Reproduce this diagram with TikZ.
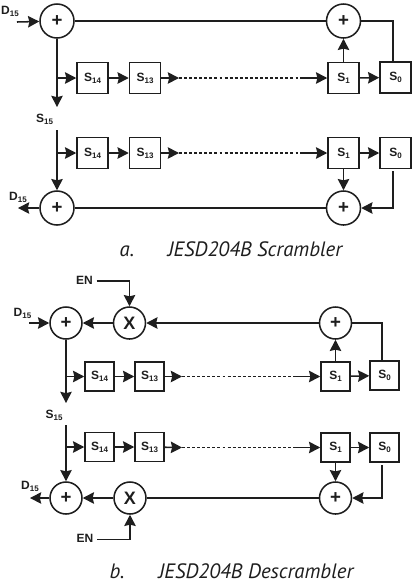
\documentclass[tikz,border=0pt]{standalone}
\usepackage{fontspec}
\setmainfont{Liberation Sans}
\newfontfamily\capfont{PT Sans}
\usetikzlibrary{arrows.meta}
\definecolor{cink}{HTML}{1E1E1E}
\newcommand{\sname}[2]{{\fontsize{9}{9}\bfseries #1\raisebox{-1.6pt}{\fontsize{6}{6}\selectfont #2}}}
\tikzset{
  every picture/.style={line width=1.15pt, draw=cink, text=cink},
  regbox/.style={draw, fill=white, minimum size=#1, inner sep=0pt},
  regbox/.default=23.25pt,
  adder/.style={draw, circle, fill=white, minimum size=#1, inner sep=0pt, font=\fontsize{14}{14}\bfseries},
  adder/.default=25.5pt,
  mixer/.style={draw, circle, fill=white, minimum size=24pt, inner sep=0pt, font=\fontsize{13.5}{13.5}\bfseries},
  arrow/.style={-{Stealth[length=8.4pt, width=8.6pt, inset=1pt]}},
  sigtext/.style={inner sep=2.2pt},
  caption/.style={font=\capfont\itshape\fontsize{15.6}{15.6}\selectfont, inner sep=0pt, anchor=base},
}
\begin{document}
\begin{tikzpicture}[x=0.75pt, y=-0.75pt]
  \useasboundingbox (0,0) rectangle (416,583);
  % a. scrambler, upper row
  \node[adder] (xorla) at (57,21) {+};
  \node[adder] (xorra) at (343.5,21) {+};
  \node[regbox] (sfa) at (92.5,78) {\sname{S}{14}};
  \node[regbox] (sea) at (145,78) {\sname{S}{13}};
  \node[regbox] (soa) at (343.5,78) {\sname{S}{1}};
  \node[regbox] (sza) at (395.5,77.5) {\sname{S}{0}};
  \node[sigtext] (dina) at (10,11) {\sname{D}{15}};
  \coordinate (dinaend) at (17,22);
  \coordinate (downa) at (57,107);
  \coordinate (dota) at (179,78);
  \coordinate (dotb) at (300,78);
  \draw[arrow] (dinaend) -- (xorla);
  \draw (xorla) -- (xorra);
  \draw[arrow] (xorla) -- (downa);
  \draw[arrow] (sfa -| xorla) -- (sfa);
  \draw[arrow] (sfa) -- (sea);
  \draw[arrow] (sea) -- (dota);
  \draw[dashed, dash pattern=on 2.2pt off 1.6pt] (dota) -- (dotb);
  \draw[arrow] (dotb) -- (soa);
  \draw[arrow] (soa) -- (sza);
  \draw[arrow] (soa) -- (xorra);
  \draw ([xshift=-1.8pt]sza.north) |- (xorra);
  % a. scrambler, lower row
  \node[sigtext] (ssa) at (44.5,119) {\sname{S}{15}};
  \node[adder] (xorlb) at (57,208) {+};
  \node[adder] (xorrb) at (343.5,208) {+};
  \node[regbox] (sfb) at (92.5,153) {\sname{S}{14}};
  \node[regbox] (seb) at (145,153) {\sname{S}{13}};
  \node[regbox] (sob) at (343.5,153) {\sname{S}{1}};
  \node[regbox] (szb) at (395.5,153) {\sname{S}{0}};
  \node[sigtext] (douta) at (18,197) {\sname{D}{15}};
  \coordinate (ssaend) at (57,130);
  \coordinate (doutaend) at (18,208);
  \coordinate (dotc) at (179,153);
  \coordinate (dotd) at (300,153);
  \coordinate (szbend) at (393,171);
  \draw[arrow] (ssaend) -- (xorlb);
  \draw[arrow] (sfb -| xorlb) -- (sfb);
  \draw[arrow] (sfb) -- (seb);
  \draw[arrow] (seb) -- (dotc);
  \draw[dashed, dash pattern=on 2.2pt off 1.6pt] (dotc) -- (dotd);
  \draw[arrow] (dotd) -- (sob);
  \draw[arrow] (sob) -- (szb);
  \draw[arrow] (sob) -- (xorrb);
  \draw[arrow] (szbend) |- (xorrb);
  \draw (xorrb) -- (xorlb);
  \draw[arrow] (xorlb) -- (doutaend);
  \node[caption] (capa) at (127,256.5) {a.};
  \node[caption] (capatext) at (255,256.5) {JESD204B Scrambler};
  % b. descrambler, upper row
  \node[adder=24pt] (xorlc) at (66,323) {+};
  \node[mixer] (mixc) at (129.5,323) {X};
  \node[adder=24pt] (xorrc) at (335.5,323) {+};
  \node[regbox=21.75pt] (sfc) at (99.5,376.5) {\sname{S}{14}};
  \node[regbox=21.75pt] (sec) at (149.5,376.5) {\sname{S}{13}};
  \node[regbox=21.75pt] (soc) at (335.5,376.5) {\sname{S}{1}};
  \node[regbox=21.75pt] (szc) at (384.5,375.5) {\sname{S}{0}};
  \node[sigtext] (dinb) at (22.5,313) {\sname{D}{15}};
  \node[sigtext] (enc) at (84.5,281) {\sname{EN}{}};
  \coordinate (dinbend) at (29,323);
  \coordinate (downc) at (66,403);
  \coordinate (dote) at (182,376.5);
  \coordinate (dotf) at (295,376.5);
  \draw[arrow] (dinbend) -- (xorlc);
  \draw[arrow] (enc) -| (mixc);
  \draw[arrow] (mixc) -- (xorlc);
  \draw[arrow] (xorrc) -- (mixc);
  \draw[arrow] (xorlc) -- (downc);
  \draw[arrow] (sfc -| xorlc) -- (sfc);
  \draw[arrow] (sfc) -- (sec);
  \draw[arrow] (sec) -- (dote);
  \draw[dashed, dash pattern=on 2.2pt off 1.6pt] (dote) -- (dotf);
  \draw[arrow] (dotf) -- (soc);
  \draw[arrow] (soc) -- (szc);
  \draw[arrow] (soc) -- (xorrc);
  \draw ([xshift=-1.8pt]szc.north) |- (xorrc);
  % b. descrambler, lower row
  \node[sigtext] (ssb) at (54,415) {\sname{S}{15}};
  \node[adder=24pt] (xorld) at (66,498) {+};
  \node[mixer] (mixd) at (130,498) {X};
  \node[adder=24pt] (xorrd) at (335.5,498) {+};
  \node[regbox=21.75pt] (sfd) at (99.5,447) {\sname{S}{14}};
  \node[regbox=21.75pt] (sed) at (149.5,447) {\sname{S}{13}};
  \node[regbox=21.75pt] (sod) at (335.5,447.5) {\sname{S}{1}};
  \node[regbox=21.75pt] (szd) at (384.5,447.5) {\sname{S}{0}};
  \node[sigtext] (doutb) at (30,486) {\sname{D}{15}};
  \node[sigtext] (end) at (85,539.5) {\sname{EN}{}};
  \coordinate (ssbend) at (66,425);
  \coordinate (doutbend) at (30,498);
  \coordinate (dotg) at (182,447.5);
  \coordinate (doth) at (295,447.5);
  \coordinate (szdend) at (382,465);
  \draw[arrow] (ssbend) -- (xorld);
  \draw[arrow] (sfd -| xorld) -- (sfd);
  \draw[arrow] (sfd) -- (sed);
  \draw[arrow] (sed) -- (dotg);
  \draw[dashed, dash pattern=on 2.2pt off 1.6pt] (dotg) -- (doth);
  \draw[arrow] (doth) -- (sod);
  \draw[arrow] (sod) -- (szd);
  \draw[arrow] (sod) -- (xorrd);
  \draw[arrow] (szdend) |- (xorrd);
  \draw (xorrd) -- (mixd);
  \draw[arrow] (mixd) -- (xorld);
  \draw[arrow] (end) -| (mixd);
  \draw[arrow] (xorld) -- (doutbend);
  \node[caption] (capb) at (117,578) {b.};
  \node[caption] (capbtext) at (256,578) {JESD204B Descrambler};
\end{tikzpicture}
\end{document}
